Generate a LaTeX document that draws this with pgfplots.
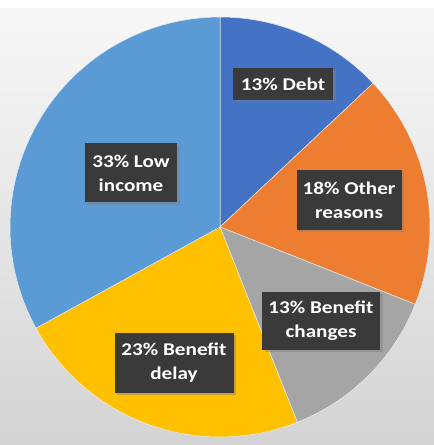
\documentclass[border=0pt]{standalone}
\usepackage{pgfplots}
\pgfplotsset{compat=1.18}
\usepackage{fontspec}
\setmainfont{Carlito}
\newfontfamily\lab{Carlito}[FakeStretch=1.18]
\usetikzlibrary{shadows}
\definecolor{cDebt}{HTML}{4472C4}
\definecolor{cOther}{HTML}{ED7D31}
\definecolor{cChange}{HTML}{A5A5A5}
\definecolor{cDelay}{HTML}{FFC000}
\definecolor{cLow}{HTML}{5B9BD5}
\definecolor{boxc}{HTML}{3A3A3A}
% shares in percent
\def\pDebt{13}
\def\pOther{18}
\def\pChange{13}
\def\pDelay{23}
\def\pLow{33}
\pgfmathsetmacro\aA{90}
\pgfmathsetmacro\aB{\aA-3.6*\pDebt}
\pgfmathsetmacro\aC{\aB-3.6*\pOther}
\pgfmathsetmacro\aD{\aC-3.6*\pChange}
\pgfmathsetmacro\aE{\aD-3.6*\pDelay}
\pgfmathsetmacro\aF{\aE-3.6*\pLow}
\tikzset{
  lbl/.style={fill=boxc, text=white, align=center, inner sep=0pt,
    font=\lab\bfseries\fontsize{18}{24}\selectfont,
    drop shadow={shadow xshift=2.5bp, shadow yshift=-2.5bp, opacity=0.45}},
  wedge/.style={draw=white!85!gray, line width=0.5bp, samples=60}}
\begin{document}
\begin{tikzpicture}
\shade[top color=white!97!black, bottom color=white!83!black] (0,0) rectangle (434bp,437bp);
\fill[white] (0,437bp) rectangle (434bp,445bp);
\begin{axis}[scale only axis, width=434bp, height=445bp,
  xmin=0, xmax=434, ymin=0, ymax=445, hide axis, clip=true]
\addplot[wedge, fill=cDebt, domain=\aB:\aA] ({220+210*cos(x)},{218+210*sin(x)}) -- (axis cs:220,218) -- cycle;
\addplot[wedge, fill=cOther, domain=\aC:\aB] ({220+210*cos(x)},{218+210*sin(x)}) -- (axis cs:220,218) -- cycle;
\addplot[wedge, fill=cChange, domain=\aD:\aC] ({220+210*cos(x)},{218+210*sin(x)}) -- (axis cs:220,218) -- cycle;
\addplot[wedge, fill=cDelay, domain=\aE:\aD] ({220+210*cos(x)},{218+210*sin(x)}) -- (axis cs:220,218) -- cycle;
\addplot[wedge, fill=cLow, domain=\aF:\aE] ({220+210*cos(x)},{218+210*sin(x)}) -- (axis cs:220,218) -- cycle;
\node[lbl, minimum width=100bp, minimum height=32bp] at (axis cs:283,361) {13\% Debt};
\node[lbl, minimum width=105bp, minimum height=60bp] at (axis cs:349,245) {18\% Other\\reasons};
\node[lbl, minimum width=118bp, minimum height=58bp] at (axis cs:321,124) {13\% Benefit\\changes};
\node[lbl, minimum width=119bp, minimum height=60bp] at (axis cs:174,82) {23\% Benefit\\delay};
\node[lbl, minimum width=92bp, minimum height=59bp] at (axis cs:131,272) {33\% Low\\income};
\end{axis}
\end{tikzpicture}
\end{document}
